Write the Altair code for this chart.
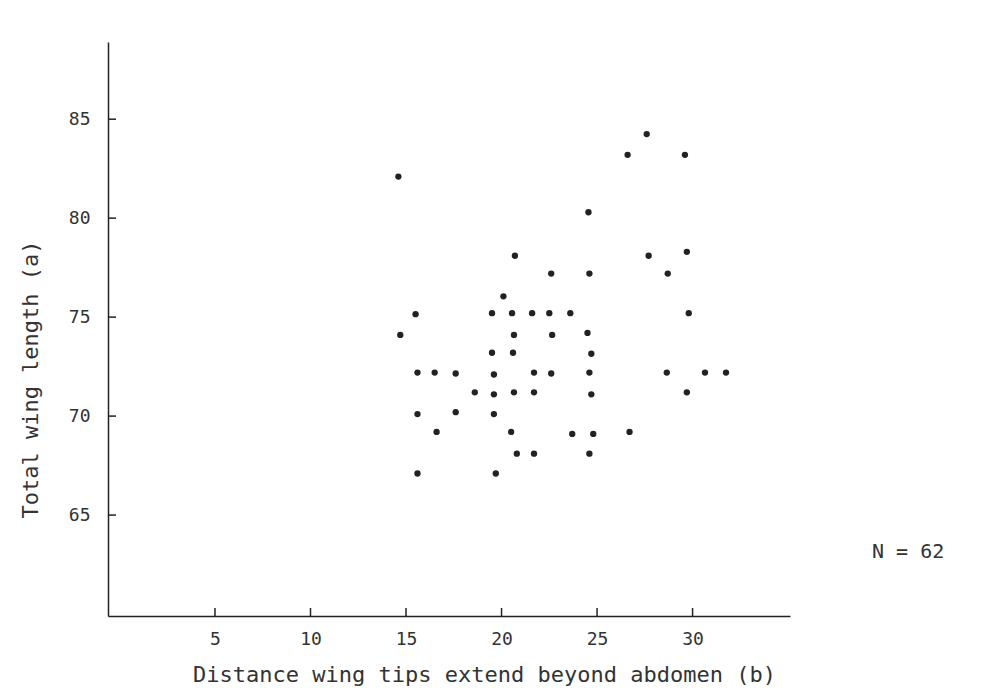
import altair as alt
import pandas as pd

# Data
x_vals = [14.6, 24.55, 20.7, 22.6, 24.6, 20.1, 15.5, 19.5, 20.55, 21.6, 22.5, 23.6,
          14.7, 20.65, 22.65, 24.5, 19.5, 20.6, 24.7, 15.6, 16.5, 17.6, 19.6, 21.7,
          22.6, 24.6, 18.6, 19.6, 20.65, 21.7, 24.7, 15.6, 17.6, 19.6, 16.6, 20.5,
          23.7, 24.8, 20.8, 21.7, 24.6, 15.6, 19.7, 27.6, 26.6, 29.6, 27.7, 29.7,
          28.7, 29.8, 28.65, 30.65, 31.75, 29.7, 26.7]
y_vals = [82.1, 80.3, 78.1, 77.2, 77.2, 76.05, 75.15, 75.2, 75.2, 75.2, 75.2, 75.2,
          74.1, 74.1, 74.1, 74.2, 73.2, 73.2, 73.15, 72.2, 72.2, 72.15, 72.1, 72.2,
          72.15, 72.2, 71.2, 71.1, 71.2, 71.2, 71.1, 70.1, 70.2, 70.1, 69.2, 69.2,
          69.1, 69.1, 68.1, 68.1, 68.1, 67.1, 67.1, 84.25, 83.2, 83.2, 78.1, 78.3,
          77.2, 75.2, 72.2, 72.2, 72.2, 71.2, 69.2]
x_ticks = [5, 10, 15, 20, 25, 30]
y_ticks = [65, 70, 75, 80, 85]
x_title = "Distance wing tips extend beyond abdomen (b)"
y_title = "Total wing length (a)"
n_label = "N = 62"

W, H = 682, 574
FONT = "DejaVu Sans Mono"
INK = "#222222"
TXT = "#333333"

pts = pd.DataFrame({"x": x_vals, "y": y_vals})
xt = pd.DataFrame({"x": x_ticks})
yt = pd.DataFrame({"y": y_ticks})
lab = pd.DataFrame({"label": [n_label]})

x_scale = alt.Scale(domain=[-0.6, 35.1], nice=False, zero=False)
y_scale = alt.Scale(domain=[59.9, 88.9], nice=False, zero=False)

x_axis = alt.Axis(values=x_ticks, tickSize=0, labelPadding=14, grid=False,
                  title=x_title, titlePadding=16, titleX=376,
                  labelFontSize=18, titleFontSize=22)
y_axis = alt.Axis(values=y_ticks, tickSize=0, labelPadding=18, grid=False,
                  title=y_title, titlePadding=26, titleY=337,
                  labelFontSize=18, titleFontSize=22)

x_enc = alt.X("x:Q", scale=x_scale, axis=x_axis)
y_enc = alt.Y("y:Q", scale=y_scale, axis=y_axis)

points = alt.Chart(pts).mark_circle(size=40, color=INK, opacity=1).encode(
    x=x_enc, y=y_enc
)

xtick_rules = alt.Chart(xt).mark_rule(color=INK, strokeWidth=1.5).encode(
    x=x_enc, y=alt.value(H), y2=alt.value(H - 8)
)
ytick_rules = alt.Chart(yt).mark_rule(color=INK, strokeWidth=1.5).encode(
    y=y_enc, x=alt.value(0), x2=alt.value(8)
)

ntext = alt.Chart(lab).mark_text(
    font=FONT, fontSize=20, color=TXT, align="left", baseline="middle"
).encode(text="label:N", x=alt.value(764), y=alt.value(510))

chart = alt.layer(points, xtick_rules, ytick_rules, ntext).properties(
    width=W, height=H,
    autosize=alt.AutoSizeParams(type="none"),
    padding={"left": 100, "top": 34, "right": 180, "bottom": 70},
    background="white",
).configure_view(stroke=None).configure_axis(
    domainColor=INK, domainWidth=1.5, labelFont=FONT, titleFont=FONT,
    labelColor=TXT, titleColor=TXT, titleFontWeight="normal",
)

chart.save("out.html", embed_options={"renderer": "svg", "actions": False})
